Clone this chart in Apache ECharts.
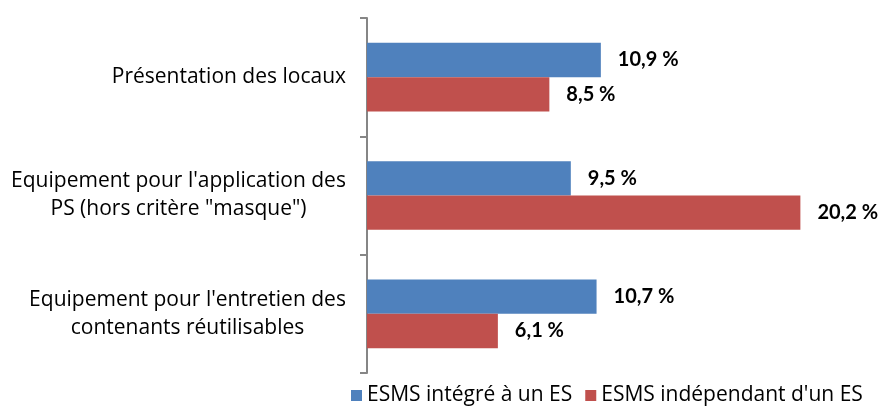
<!DOCTYPE html>
<html>
<head>
<meta charset="utf-8">
<script src="https://cdn.jsdelivr.net/npm/echarts@6/dist/echarts.min.js"></script>
<style>
html, body { margin: 0; padding: 0; background: #fff; }
#chart { width: 883px; height: 409px; }
</style>
</head>
<body>
<div id="chart"></div>
<script>
// categories, top to bottom
let categories = [
	"Présentation des locaux",
	"Equipement pour l'application des\nPS (hors critère \"masque\")",
	"Equipement pour l'entretien des\ncontenants réutilisables"
];
let seriesNames = ["ESMS intégré à un ES", "ESMS indépendant d'un ES"];
let integre = [10.9, 9.5, 10.7];
let independant = [8.5, 20.2, 6.1];

let fontName = 'Open Sans';
let catSize = 21;

// measure a line so multi-line labels can be centered in their own box
let ctx = document.createElement('canvas').getContext('2d');
ctx.font = catSize + 'px "' + fontName + '"';

function fmtPct(v){
	return v.toFixed(1).replace('.', ',') + ' %';
}

function fmtCat(v){
	let lines = v.split('\n');
	if(lines.length == 1) return '{s|' + v + '}';
	let w = 0;
	lines.forEach(function(l){ w = Math.max(w, ctx.measureText(l).width); });
	let key = 'm' + Math.round(w);
	catRich[key] = { fontFamily: fontName, fontSize: catSize, color: '#000', width: Math.ceil(w), align: 'center', lineHeight: 28 };
	return lines.map(function(l){ return '{' + key + '|' + l + '}'; }).join('\n');
}

let catRich = {
	s: { fontFamily: fontName, fontSize: catSize, color: '#000' }
};
// pre-build the rich styles
categories.forEach(fmtCat);

let labelStyle = {
	show: true,
	position: 'right',
	distance: 17,
	fontFamily: 'Lato',
	fontWeight: 'bold',
	fontSize: 20,
	color: '#000',
	formatter: function(p){ return fmtPct(p.value); }
};

let chart = echarts.init(document.getElementById('chart'));
let option = {
	animation: false,
	color: ['#4F81BD', '#C0504D'],
	grid: { left: 367, top: 18, bottom: 36, right: 44 },
	legend: {
		data: seriesNames,
		left: 346,
		top: 380,
		itemWidth: 11,
		itemHeight: 11,
		itemGap: 13,
		icon: 'rect',
		textStyle: { fontFamily: fontName, fontSize: 21, color: '#000' }
	},
	xAxis: {
		type: 'value',
		min: 0,
		max: 22,
		show: false
	},
	yAxis: {
		type: 'category',
		inverse: true,
		data: categories,
		axisLine: { lineStyle: { color: '#868686', width: 2 } },
		axisTick: { show: true, length: 7, lineStyle: { color: '#868686', width: 2 } },
		axisLabel: {
			margin: 21,
			align: 'right',
			color: '#000',
			fontFamily: fontName,
			fontSize: catSize,
			lineHeight: 28,
			formatter: fmtCat,
			rich: catRich
		}
	},
	series: [
		{
			name: seriesNames[0],
			type: 'bar',
			data: integre,
			barGap: '0%',
			barCategoryGap: '42%',
			label: labelStyle
		},
		{
			name: seriesNames[1],
			type: 'bar',
			data: independant,
			barGap: '0%',
			barCategoryGap: '42%',
			label: labelStyle
		}
	]
};
chart.setOption(option);
</script>
</body>
</html>
